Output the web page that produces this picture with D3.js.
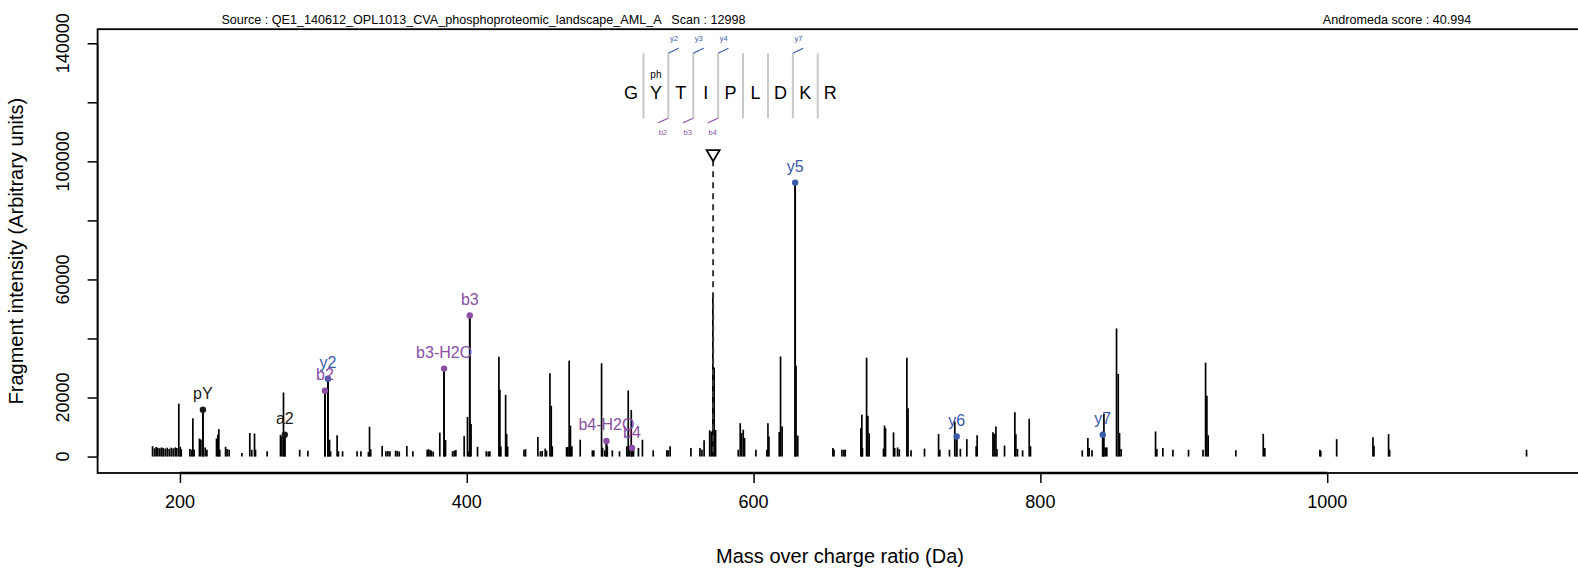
<!DOCTYPE html>
<html><head><meta charset="utf-8">
<script src="https://cdn.jsdelivr.net/npm/d3@7"></script>
<style>
body{margin:0;background:#fff}
svg text{font-family:"Liberation Sans",Arial,Helvetica,sans-serif;white-space:pre}
</style>
</head><body>
<svg id="c" width="1578" height="569"></svg>
<script>
// ---------------- DATA ----------------
const peakMz = [
180.9,182.3,183.4,184.6,186.0,187.2,188.3,189.7,191.1,192.5,193.9,195.3,196.7,197.8,199.2,200.2,200.9,
206.9,208.1,209.0,209.9,213.6,214.6,216.0,217.6,218.8,225.5,226.4,227.1,227.8,231.8,232.9,234.3,243.2,
248.7,250.1,252.0,252.7,260.8,270.1,271.1,272.2,273.1,283.5,289.2,301.1,303.2,304.3,305.0,309.6,310.5,
313.4,323.5,326.2,331.4,332.2,333.0,341.0,343.6,345.0,346.4,350.4,351.6,352.9,358.2,362.4,372.4,373.3,
374.4,375.3,376.6,381.2,384.2,385.2,390.1,391.3,392.4,398.2,400.5,401.5,402.1,403.0,407.5,413.6,415.0,
416.1,422.4,423.1,423.8,427.1,427.8,428.5,439.9,441.0,449.6,451.4,452.6,454.7,455.6,458.0,458.9,459.6,
469.6,470.5,471.4,472.3,473.3,479.1,487.6,488.6,494.0,494.7,496.3,497.4,498.0,501.5,506.5,511.6,512.6,
513.5,514.7,515.2,516.3,519.7,522.5,530.0,539.5,540.4,541.8,556.3,562.6,564.0,565.5,569.4,570.5,571.6,
572.5,573.5,589.3,590.7,591.6,592.8,593.7,601.6,609.3,610.0,610.7,617.9,618.8,619.9,629.0,629.6,630.8,
655.3,656.1,661.6,663.0,663.9,674.8,675.5,675.9,678.8,679.7,680.6,690.6,691.3,692.0,697.6,698.4,700.4,
701.6,706.9,707.7,709.8,719.2,729.0,729.9,736.6,740.3,741.6,744.2,748.7,755.2,755.9,766.9,767.8,769.0,
769.7,775.0,782.2,782.9,784.0,787.6,792.2,793.1,829.2,833.1,834.0,836.0,843.5,844.3,845.2,846.3,853.1,
854.3,855.2,856.3,880.3,881.2,885.4,892.4,903.3,913.4,915.2,916.1,917.0,936.3,955.4,956.5,994.9,995.5,
1006.6,1031.9,1032.6,1042.8,1043.5,1139.0
];
const peakIntensity = [
3500,2800,3200,3000,2800,3100,2900,2700,3000,2600,3000,2800,3100,2900,17900,3300,2500,
2600,2300,13000,2400,6100,5800,15900,3100,2300,6100,7400,9300,2300,3300,2600,2300,1200,
8000,2300,7800,2300,1800,7300,6800,21700,7400,2300,2000,22300,26400,5700,1800,7200,1800,
1800,1800,1800,1500,10100,2500,3600,1800,1900,1800,2000,1900,1700,3600,1800,2300,2500,
2200,2000,1700,8100,29800,5600,1800,2000,2200,6900,13400,1800,47800,11000,3300,1800,1700,
1800,33800,22600,3400,20900,7700,3400,2300,2500,6600,1800,1900,2700,2000,28200,17200,3500,
3200,3200,32500,10500,3500,5700,2100,2100,31600,3000,2100,5300,3500,2100,1800,3500,22400,
3500,15800,2900,3000,2900,5700,2100,2100,2100,3500,2900,2900,2300,5500,8900,8500,55300,
30200,9000,2300,11300,8000,9100,6300,2300,2300,11300,6800,8300,33900,10200,92800,30800,7100,
2900,2300,2300,2300,2300,9600,14200,2900,33500,13800,7900,2700,10500,9600,8200,2900,3100,
2500,33500,16400,2100,2700,7600,2300,2300,11900,6800,2600,5900,3500,7200,8200,7700,10200,
2600,3700,15000,7600,2600,2100,12800,3500,2100,6300,2900,2100,7400,14500,3100,3100,43400,
28000,8000,2600,8500,2600,2900,2300,2300,2300,31800,20600,7200,2100,7700,2900,2300,1900,
5900,6500,3700,7600,2300,2300
];

// annotated fragment ions
const ionNames     = ["pY","a2","b2","y2","b3-H2O","b3","b4-H2O","b4","y5","y6","y7"];
const ionMz        = [216.0,273.1,301.1,303.2,384.2,402.1,497.4,515.2,629.0,741.6,843.5];
const ionIntensity = [15900,7400,22300,26400,29800,47800,5300,2900,92800,6800,7400];
const ionSeries    = ["other","other","b","y","b","b","b","b","y","y","y"];

const precursorMz = 571.78;

// peptide sequence annotation
const sequence = ["G","Y","T","I","P","L","D","K","R"];
const modLabel = "ph";
const modIndex = 1;
const yIonMarks = [{sep:2,label:"y2"},{sep:3,label:"y3"},{sep:4,label:"y4"},{sep:7,label:"y7"}];
const bIonMarks = [{sep:2,label:"b2"},{sep:3,label:"b3"},{sep:4,label:"b4"}];

const xTicks = [200,400,600,800,1000];
const yTicks = [0,20000,40000,60000,80000,100000,120000,140000];
const yTickLabels = [0,20000,60000,100000,140000];

const sourceText = "Source : QE1_140612_OPL1013_CVA_phosphoproteomic_landscape_AML_A   Scan : 12998";
const scoreText = "Andromeda score : 40.994";
const xTitle = "Mass over charge ratio (Da)";
const yTitle = "Fragment intensity (Arbitrary units)";

// ---------------- LAYOUT ----------------
const L = 97.6, R = 1581.5, T = 29.2, B = 473;
const colors = {b:"#8a4fa5", y:"#3b5ba9", other:"#1a1a1a"};

const svg = d3.select("#c");
const [lo, hi] = d3.extent(peakMz);
const pad = (hi - lo) * 0.04;
const x = d3.scaleLinear().domain([lo - pad, hi + pad]).range([L, R]);
const ymax = 1.5 * d3.max(peakIntensity);
const y = d3.scaleLinear().domain([-0.04 * ymax, 1.04 * ymax]).range([B, T]);

// box
svg.append("rect").attr("x", L).attr("y", T).attr("width", R - L).attr("height", B - T)
  .attr("fill", "none").attr("stroke", "#000").attr("stroke-width", 1.8);

// peaks
svg.append("g").selectAll("line").data(peakMz).join("line")
  .attr("x1", d => x(d)).attr("x2", d => x(d))
  .attr("y1", y(0)).attr("y2", (d, i) => y(peakIntensity[i]))
  .attr("stroke", "#000").attr("stroke-width", 1.7);

// precursor
const precY = 1.1 * d3.max(peakIntensity);
const px = x(precursorMz), py = y(precY);
svg.append("line").attr("x1", px).attr("x2", px).attr("y1", py + 5).attr("y2", y(0))
  .attr("stroke", "#3a3a3a").attr("stroke-width", 2).attr("stroke-dasharray", "6,5");
svg.append("path")
  .attr("d", `M${px - 6.5},${py - 5} L${px + 6.5},${py - 5} L${px},${py + 6} Z`)
  .attr("fill", "#fff").attr("stroke", "#000").attr("stroke-width", 1.8);

// ion dots and labels
const ions = ionNames.map((n, i) => ({n, mz: ionMz[i], v: ionIntensity[i], s: ionSeries[i]}));
const ig = svg.append("g");
ig.selectAll("line").data(ions).join("line")
  .attr("x1", d => x(d.mz)).attr("x2", d => x(d.mz))
  .attr("y1", y(0)).attr("y2", d => y(d.v))
  .attr("stroke", "#000").attr("stroke-width", 1.8);
ig.selectAll("circle").data(ions).join("circle")
  .attr("cx", d => x(d.mz)).attr("cy", d => y(d.v)).attr("r", 3.2)
  .attr("fill", d => colors[d.s]);
ig.selectAll("text").data(ions).join("text")
  .attr("x", d => x(d.mz)).attr("y", d => y(d.v) - 10.5)
  .attr("text-anchor", "middle").attr("font-size", 16)
  .attr("fill", d => colors[d.s]).text(d => d.n);

// axes
const ya = svg.append("g").attr("transform", `translate(${L},0)`)
  .call(d3.axisLeft(y).tickValues(yTicks).tickSize(10).tickSizeOuter(0).tickFormat(""));
ya.select(".domain").attr("d", `M0,${y(0)}V${y(140000)}`).attr("stroke-width", 1.5);
ya.selectAll(".tick line").attr("stroke-width", 1.5);
svg.append("g").selectAll("text").data(yTickLabels).join("text")
  .attr("transform", d => `translate(68.5,${y(d)}) rotate(-90)`)
  .attr("text-anchor", "middle").attr("font-size", 18).attr("fill", "#000")
  .text(d => d);

const xa = svg.append("g").attr("transform", `translate(0,${B})`)
  .call(d3.axisBottom(x).tickValues(xTicks).tickSize(10).tickSizeOuter(0).tickFormat(""));
xa.select(".domain").attr("d", `M${x(200)},0H${x(1000)}`).attr("stroke-width", 2.5);
xa.selectAll(".tick line").attr("stroke-width", 1.5);
svg.append("g").selectAll("text").data(xTicks).join("text")
  .attr("x", d => x(d)).attr("y", 507.5)
  .attr("text-anchor", "middle").attr("font-size", 18).text(d => d);

// titles
svg.append("text").attr("x", 840).attr("y", 562.5)
  .attr("text-anchor", "middle").attr("font-size", 20).text(xTitle);
svg.append("text").attr("transform", `translate(23,${(T + B) / 2}) rotate(-90)`)
  .attr("text-anchor", "middle").attr("font-size", 20).text(yTitle);
svg.append("text").attr("x", 483.5).attr("y", 23.5).attr("text-anchor", "middle")
  .attr("font-size", 12.6).text(sourceText);
svg.append("text").attr("x", 1397).attr("y", 23.5).attr("text-anchor", "middle")
  .attr("font-size", 12.6).text(scoreText);

// peptide annotation
const letterX = d3.scaleLinear().domain([0, 1]).range([631, 655.9]);
const topY = 53.3, botY = 118.3;
const pg = svg.append("g");
pg.selectAll("text.aa").data(sequence).join("text").attr("class", "aa")
  .attr("x", (d, i) => letterX(i)).attr("y", 99)
  .attr("text-anchor", "middle").attr("font-size", 18).text(d => d);
pg.selectAll("line.sep").data(d3.range(1, sequence.length)).join("line").attr("class", "sep")
  .attr("x1", d => letterX(d - 0.5)).attr("x2", d => letterX(d - 0.5))
  .attr("y1", topY).attr("y2", botY).attr("stroke", "#c8c8c8").attr("stroke-width", 2);
pg.append("text").attr("x", letterX(modIndex)).attr("y", 77.5)
  .attr("text-anchor", "middle").attr("font-size", 10).attr("fill", "#000").text(modLabel);
pg.selectAll("line.ym").data(yIonMarks).join("line").attr("class", "ym")
  .attr("x1", d => letterX(d.sep - 0.5)).attr("x2", d => letterX(d.sep - 0.5) + 10.3)
  .attr("y1", topY).attr("y2", topY - 5).attr("stroke", colors.y).attr("stroke-width", 1.2);
pg.selectAll("text.yl").data(yIonMarks).join("text").attr("class", "yl")
  .attr("x", d => letterX(d.sep - 0.5) + 5.5).attr("y", 40.5)
  .attr("text-anchor", "middle").attr("font-size", 7.5).attr("fill", colors.y).text(d => d.label);
pg.selectAll("line.bm").data(bIonMarks).join("line").attr("class", "bm")
  .attr("x1", d => letterX(d.sep - 0.5)).attr("x2", d => letterX(d.sep - 0.5) - 10.3)
  .attr("y1", botY).attr("y2", botY + 4.5).attr("stroke", colors.b).attr("stroke-width", 1.2);
pg.selectAll("text.bl").data(bIonMarks).join("text").attr("class", "bl")
  .attr("x", d => letterX(d.sep - 0.5) - 5.5).attr("y", 135)
  .attr("text-anchor", "middle").attr("font-size", 7.5).attr("fill", colors.b).text(d => d.label);
</script>
</body></html>
